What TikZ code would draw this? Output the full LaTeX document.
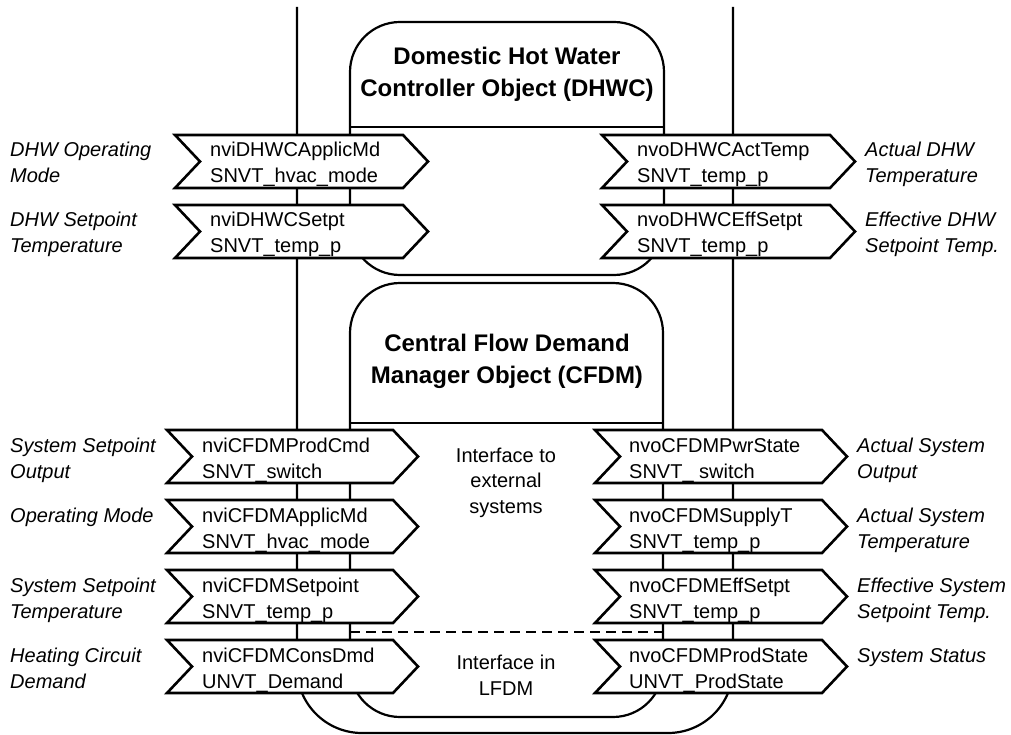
\documentclass[tikz,border=0pt]{standalone}
\usepackage{fontspec}
\setmainfont{Liberation Sans}
\begin{document}
\begin{tikzpicture}[x=1pt,y=-1pt,
  frame/.style={line width=2.2pt},
  chev/.style={draw, fill=white, line width=2.6pt, line join=miter},
  sig/.style={anchor=base west, align=left, inner sep=0pt, font=\fontsize{20}{26}\selectfont},
  lbl/.style={anchor=base west, align=left, inner sep=0pt, font=\fontsize{20}{26}\selectfont\itshape},
  ttl/.style={anchor=base, align=center, inner sep=0pt, font=\fontsize{24}{32}\selectfont\bfseries},
  note/.style={anchor=base, align=center, inner sep=0pt, font=\fontsize{20}{25.5}\selectfont},
]
\useasboundingbox (0,0) rectangle (1011,735);

% chevron outline: left edge x, top y, tip x
\newcommand\drawchev[3]{%
  \draw[chev] (#1,#2) -- (#3-25,#2) -- (#3,#2+26.5) -- (#3-25,#2+53)
    -- (#1,#2+53) -- (#1+25,#2+26.5) -- cycle;}

% outer open frame
\draw[frame, rounded corners=65pt] (297,7) -- (297,733) -- (733,733) -- (733,7);

% object boxes
\draw[frame, rounded corners=50pt] (350,22) rectangle (664,275);
\draw[frame] (350,127) -- (664,127);
\draw[frame, rounded corners=50pt] (350,283) rectangle (663,717);
\draw[frame] (350,423) -- (663,423);
\draw[line width=2pt, dash pattern=on 10pt off 6pt] (350,632) -- (663,632);

% multi-line nodes are placed by the baseline of their last line
\node[ttl] (dhwc) at (507,97) {Domestic Hot Water\\Controller Object (DHWC)};
\node[ttl] (cfdm) at (507,383) {Central Flow Demand\\Manager Object (CFDM)};
\node[note] (ext) at (506,513) {Interface to\\external\\systems};
\node[note] (lfdm) at (506,695) {Interface in\\LFDM};

% DHWC inputs
\drawchev{175}{135}{428}
\node[sig] (i1) at (210,183) {nviDHWCApplicMd\\SNVT\_hvac\_mode};
\drawchev{175}{205}{428}
\node[sig] (i2) at (210,253) {nviDHWCSetpt\\SNVT\_temp\_p};
% DHWC outputs
\drawchev{602}{135}{855}
\node[sig] (o1) at (637,183) {nvoDHWCActTemp\\SNVT\_temp\_p};
\drawchev{602}{205}{855}
\node[sig] (o2) at (637,253) {nvoDHWCEffSetpt\\SNVT\_temp\_p};

% CFDM inputs
\drawchev{167}{430}{418}
\node[sig] (i3) at (202,478) {nviCFDMProdCmd\\SNVT\_switch};
\drawchev{167}{500}{418}
\node[sig] (i4) at (202,548) {nviCFDMApplicMd\\SNVT\_hvac\_mode};
\drawchev{167}{570}{418}
\node[sig] (i5) at (202,618) {nviCFDMSetpoint\\SNVT\_temp\_p};
\drawchev{167}{640}{418}
\node[sig] (i6) at (202,688) {nviCFDMConsDmd\\UNVT\_Demand};
% CFDM outputs
\drawchev{595}{430}{847}
\node[sig] (o3) at (629,478) {nvoCFDMPwrState\\SNVT\_ switch};
\drawchev{595}{500}{847}
\node[sig] (o4) at (629,548) {nvoCFDMSupplyT\\SNVT\_temp\_p};
\drawchev{595}{570}{847}
\node[sig] (o5) at (629,618) {nvoCFDMEffSetpt\\SNVT\_temp\_p};
\drawchev{595}{640}{847}
\node[sig] (o6) at (629,688) {nvoCFDMProdState\\UNVT\_ProdState};

% left captions
\node[lbl] (l1) at (10,183) {DHW Operating\\Mode};
\node[lbl] (l2) at (10,253) {DHW Setpoint\\Temperature};
\node[lbl] (l3) at (10,478) {System Setpoint\\Output};
\node[lbl] (l4) at (10,522) {Operating Mode};
\node[lbl] (l5) at (10,618) {System Setpoint\\Temperature};
\node[lbl] (l6) at (10,688) {Heating Circuit\\Demand};
% right captions
\node[lbl] (r1) at (865,183) {Actual DHW\\Temperature};
\node[lbl] (r2) at (865,253) {Effective DHW\\Setpoint Temp.};
\node[lbl] (r3) at (857,478) {Actual System\\Output};
\node[lbl] (r4) at (857,548) {Actual System\\Temperature};
\node[lbl] (r5) at (857,618) {Effective System\\Setpoint Temp.};
\node[lbl] (r6) at (857,662) {System Status};
\end{tikzpicture}
\end{document}
